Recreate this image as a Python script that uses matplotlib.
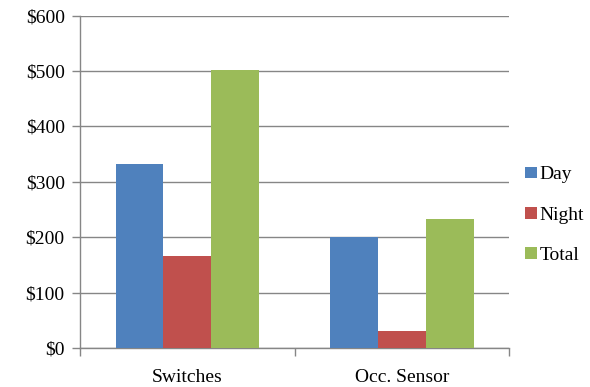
import matplotlib.pyplot as plt
import numpy as np
from matplotlib.ticker import FuncFormatter, MultipleLocator

categories = ["Switches", "Occ. Sensor"]
series_names = ["Day", "Night", "Total"]
day = [332, 200]
night = [167, 30]
total = [502, 233]
series_values = [day, night, total]
colors = ["#4F81BD", "#C0504D", "#9BBB59"]

plt.rcParams["font.family"] = ["Liberation Serif", "DejaVu Serif"]

fig = plt.figure(figsize=(5.9, 3.87), dpi=100)
ax = fig.add_axes([0.1356, 0.1008, 0.8632 - 0.1356, 0.9594 - 0.1008])

# excel-style clustered columns, gap width 150%
bar_w = 1 / 4.5
x = np.arange(len(categories))
for i, (name, vals, c) in enumerate(zip(series_names, series_values, colors)):
    ax.bar(x + (i - 1) * bar_w, vals, bar_w, color=c, label=name, zorder=3)

ax.set_xlim(-0.5, len(categories) - 0.5)
ax.set_ylim(0, 600)
ax.yaxis.set_major_locator(MultipleLocator(100))
ax.yaxis.set_major_formatter(FuncFormatter(lambda v, p: f"${v:.0f}"))
ax.grid(axis="y", color="#868686", linewidth=1.0, zorder=0)

ax.set_xticks(x)
ax.set_xticklabels(categories)
ax.set_xticks([-0.5, 0.5, 1.5], minor=True)
ax.tick_params(axis="x", which="major", length=0, labelsize=14, pad=15)
ax.tick_params(axis="x", which="minor", length=6, color="#868686", width=1)
ax.tick_params(axis="y", length=6, color="#868686", width=1, labelsize=14, pad=5)

for side in ["top", "right"]:
    ax.spines[side].set_visible(False)
for side in ["left", "bottom"]:
    ax.spines[side].set_color("#868686")
    ax.spines[side].set_linewidth(1.0)

ax.legend(loc="center left", bbox_to_anchor=(1.0, 0.40), frameon=False,
          fontsize=14, handlelength=0.65, handleheight=0.55, handletextpad=0.1,
          labelspacing=1.2, borderaxespad=0.4)

fig.savefig("out.png", dpi=100)
